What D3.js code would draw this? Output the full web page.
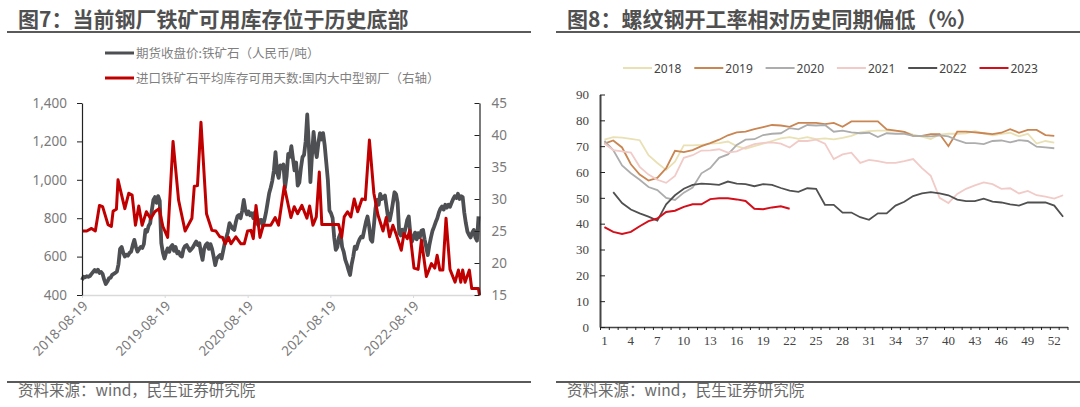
<!DOCTYPE html>
<html>
<head>
<meta charset="utf-8">
<script src="https://cdn.jsdelivr.net/npm/d3@7"></script>
<style>
body { margin: 0; background: #fff; }
text { font-family: "Noto Sans CJK SC", "Noto Sans", sans-serif; }
.title { font-size: 21px; font-weight: 700; fill: #505050; }
.source { font-size: 15.5px; fill: #6a6a6a; }
.legend { font-size: 12.5px; fill: #7f7f7f; }
.tick-left text { font-size: 13.5px; fill: #7a7a7a; font-family: "Noto Sans", sans-serif; }
.tick-serif text { font-size: 13px; fill: #444; font-family: "Liberation Serif", serif; }
</style>
</head>
<body>
<div id="chart"></div>
<script>
// Weeks since 2018-08-19 -> value, both
let oreWeek = [478,495,492,498,495,499,510,520,530,522,532,515,520,510,480,457,470,487,490,505,510,515,522,560,640,650,620,600,610,605,620,626,660,687,650,626,640,650,645,665,739,730,760,774,840,895,910,880,915,890,670,620,590,620,643,625,650,660,630,650,617,625,605,600,640,655,660,645,630,640,650,665,678,660,670,620,583,640,660,670,640,665,640,600,556,590,600,608,590,630,670,700,730,774,760,745,739,780,810,817,800,840,895,843,820,835,815,826,800,830,780,765,790,791,760,790,830,880,930,960,996,1050,1144,1040,1010,1075,1060,1080,960,1020,1135,1120,1175,1110,1049,1090,970,985,1060,1118,1130,1200,1340,1180,988,1130,1249,1160,1118,1190,1243,1210,1243,1180,1090,1000,840,826,800,700,635,650,700,722,650,625,583,560,530,504,560,600,652,640,670,690,704,700,740,780,809,760,690,678,760,850,895,870,927,900,910,918,860,800,788,830,880,935,925,880,722,710,740,715,750,790,809,720,678,700,725,690,722,700,735,739,690,650,608,660,700,735,756,780,800,830,850,861,845,870,855,870,860,880,900,915,905,927,900,915,910,830,774,730,713,700,725,739,700,683,809];

let stockDays = [[0,25],[3,25],[6,25.4],[8.4,25],[11,29],[13,28.8],[16.4,26],[18.5,25.7],[19.6,28.1],[21.7,28.4],[22.7,33],[27,28.5],[29.5,30.9],[31.6,30.6],[33.7,25.9],[35.8,28.9],[37.9,25.9],[40.6,28],[43.3,26.9],[45.9,28],[48.6,28.5],[51,25.7],[54,24],[57.4,39],[60.9,29.8],[65,25],[69.3,27],[70.8,32],[72.8,32.1],[75,42],[78.5,27.7],[81.9,25.1],[84.4,25],[86.9,24.1],[88.6,24],[90.3,23],[92.4,24],[93.9,23],[97,24.1],[100.2,23],[102.3,23],[104.4,25],[106.5,25.1],[108,23.8],[109.7,29],[112.2,24],[114.3,25.9],[119,25.9],[121.8,27.1],[123.9,25.9],[127.5,32],[131.7,27.1],[133.8,28.8],[135.9,27.7],[138.6,29],[141.8,27],[143.5,28.9],[145.6,25.9],[147.7,27.2],[149.6,34.2],[151.2,26],[161.8,26],[163.7,24],[165.3,27.2],[167.4,28],[169.5,27.2],[171.6,30],[173.8,28],[176.5,30],[178.6,29.9],[181.2,39.2],[184,30.9],[186.6,27.5],[189.8,25],[191.8,27.1],[193.9,24.1],[196,25.9],[198.2,24.4],[201.3,22],[203,24.6],[205.1,23.8],[206.6,25.1],[209.3,19.2],[211.9,19],[214,23.6],[217.1,17.9],[220.3,19.9],[222.4,19.2],[223.9,21.2],[225.6,18.9],[227.5,18.9],[229.5,27],[232,19],[235.2,17],[237.3,18.9],[238.8,17],[240,18.9],[241.5,17],[244.2,18.9],[245.7,16],[249.9,16],[250.6,15]];

// Rebar operating rate by week of the year
let rebar = {
    "2018": [72.5,73.5,73.3,72.8,72.3,66.5,63.5,60.8,64,70.3,70.3,70.5,71,71.2,71.8,70,69,70,71,72,73,73.5,72.8,73.5,72.7,73,72.6,73.2,74,75.3,75.8,76,76,76,75.5,74.5,73.7,72.8,74.5,74.8,74.8,75,75.8,75,74.2,74.8,75.2,73.8,74.8,71,72,71.4],
    "2019": [71,72.2,69.5,63,59,56.7,57.7,61.5,68.2,67.7,68.5,70,71.2,72.5,74.2,75.3,75.6,76.6,77.4,78.2,78,77.5,79,79,79,78.5,79,77.5,79.6,79.6,79.6,79.6,76.5,76,75.5,74,74,74.7,74.7,70,75.6,75.6,75.3,75,74.7,75.2,76.6,75.2,76.3,76.3,74.3,74],
    "2020": [72,68.5,62.5,59.5,57,54.2,53,50,49.2,52,54,59.5,61.5,65.5,66.8,70.5,72.5,72.7,74.3,74.8,75,77,76.5,78.2,78,78.2,75.6,76,75.3,75,75.2,73.5,75,74.8,74.8,74,74,73.8,74.2,73.8,72.3,71.2,71.2,70.8,72,72.2,71.5,72.3,72,69.8,69.5,69.2],
    "2021": [71,68.5,68,67.5,62,59,57,55.8,58.5,65.5,66.5,68.3,68.4,68.8,67.5,68,69.5,70.8,71.3,71.5,71,69.5,72,72,72.5,71,65,66.8,67.5,63.5,64.7,64.2,63.5,63.5,64.2,65,61.5,58.5,50,48,51.5,53.5,54.8,56,55.3,53.5,53.7,51.7,52.7,51,50.5,49.7,51],
    "2022": [null,52.2,48,45.5,44,42.7,41.2,47.5,51,53.5,55,55.5,55.3,55,56.3,55.5,55.3,54.5,55.3,55,53.8,52.8,52.3,53.7,53.5,47.3,47.3,44.3,44.3,42.5,41.5,44,44,47,48.5,50.7,51.7,52.2,51.7,51,49.3,48.7,48.7,49.7,48.5,48.2,47.5,47,48.2,48.2,48.2,47,42.7],
    "2023": [38.7,36.8,36,36.8,39,41,42,44.5,45,46.5,47.5,47.5,49.5,49.8,49.8,49.4,48.8,45.8,45.6,46.3,46.7,45.8]
};
let rebarColors = {"2018": "#e9e0b4", "2019": "#c98552", "2020": "#adadad", "2021": "#f1cbc7", "2022": "#505050", "2023": "#d20f1a"};

let svg = d3.select("#chart").append("svg")
    .attr("width", 1080)
    .attr("height", 407);

let drawFrame = function(x0, x1, textX, title){
    /* Title, the two grey rules and the source line */
    svg.append("text").attr("class", "title").attr("x", textX).attr("y", 27).text(title);
    svg.append("line").attr("x1", x0).attr("x2", x1).attr("y1", 32).attr("y2", 32)
        .attr("stroke", "#5a5a5a").attr("stroke-width", 2);
    svg.append("line").attr("x1", x0).attr("x2", x1).attr("y1", 382).attr("y2", 382)
        .attr("stroke", "#5a5a5a").attr("stroke-width", 2);
    svg.append("text").attr("class", "source").attr("x", textX).attr("y", 396).text("资料来源\uFF1Awind\uFF0C民生证券研究院");
};

let drawLeft = function(){
    let start = new Date(2018, 7, 19);
    let weekDate = function(w){ return d3.timeHour.offset(start, Math.round(w * 168)); };

    let xScale = d3.scaleTime()
        .domain([start, weekDate(250.6)])
        .range([82, 479.5]);
    let yPrice = d3.scaleLinear().domain([400, 1400]).range([295, 103]);
    let yDays = d3.scaleLinear().domain([15, 45]).range([295, 103]);

    let xTicks = [2018, 2019, 2020, 2021, 2022].map(function(y){ return new Date(y, 7, 19); });

    let xAxis = svg.append("g")
        .attr("class", "tick-left")
        .attr("transform", "translate(0,295)")
        .call(d3.axisBottom(xScale).tickValues(xTicks).tickFormat(d3.timeFormat("%Y-%m-%d")).tickSize(3).tickSizeOuter(0));
    xAxis.selectAll("line").attr("stroke", "#d9d9d9");
    xAxis.select(".domain").attr("stroke", "#d9d9d9").attr("stroke-width", 1.5);
    xAxis.selectAll("text")
        .attr("text-anchor", "end")
        .attr("dx", "-0.3em")
        .attr("dy", "0.5em")
        .attr("transform", "rotate(-45)");

    let priceLine = d3.line()
        .x(function(d, i) { return xScale(weekDate(i)); })
        .y(function(d) { return yPrice(d); });

    svg.append("path")
        .datum(oreWeek)
        .attr("d", priceLine)
        .attr("stroke", "#4d4f52")
        .attr("stroke-width", 3.8)
        .attr("stroke-linejoin", "round")
        .attr("fill", "none");

    let daysLine = d3.line()
        .x(function(d) { return xScale(weekDate(d[0])); })
        .y(function(d) { return yDays(d[1]); });

    svg.append("path")
        .datum(stockDays)
        .attr("d", daysLine)
        .attr("stroke", "#c00000")
        .attr("stroke-width", 3)
        .attr("stroke-linejoin", "round")
        .attr("fill", "none");

    let leftAxis = svg.append("g")
        .attr("class", "tick-left")
        .attr("transform", "translate(82,0)")
        .call(d3.axisLeft(yPrice).tickValues(d3.range(400, 1401, 200)).tickFormat(d3.format(",")).tickSize(5).tickPadding(10).tickSizeOuter(0));
    leftAxis.selectAll("line").attr("stroke", "#222");
    leftAxis.select(".domain").attr("stroke", "#222").attr("stroke-width", 1.2);

    let rightAxis = svg.append("g")
        .attr("class", "tick-left")
        .attr("transform", "translate(479.5,0)")
        .call(d3.axisRight(yDays).tickValues(d3.range(15, 46, 5)).tickSize(-5).tickPadding(12).tickSizeOuter(0));
    rightAxis.selectAll("line").attr("stroke", "#222");
    rightAxis.select(".domain").attr("stroke", "#222").attr("stroke-width", 1.2);

    // legend
    let keys = [
        {label: "期货收盘价:铁矿石\uFF08人民币/吨\uFF09", color: "#4d4f52", y: 53},
        {label: "进口铁矿石平均库存可用天数:国内大中型钢厂\uFF08右轴\uFF09", color: "#c00000", y: 78}
    ];
    keys.forEach(function(k){
        svg.append("line").attr("x1", 105).attr("x2", 134).attr("y1", k.y).attr("y2", k.y)
            .attr("stroke", k.color).attr("stroke-width", 3);
        svg.append("text").attr("class", "legend").attr("x", 136).attr("y", k.y + 4.5).text(k.label);
    });
};

let drawRight = function(){
    let weeks = d3.range(1, 54);
    let xScale = d3.scaleBand().domain(weeks).range([600, 1067.5]);
    let xEdge = d3.scaleLinear().domain([0, 53]).range([600, 1067.5]);
    let yScale = d3.scaleLinear().domain([0, 90]).range([327, 94.5]);

    let edgeAxis = svg.append("g")
        .attr("transform", "translate(0,327)")
        .call(d3.axisBottom(xEdge).tickValues(d3.range(0, 54)).tickFormat("").tickSize(3).tickSizeOuter(0));
    edgeAxis.selectAll("line").attr("stroke", "#222");
    edgeAxis.select(".domain").attr("stroke", "#444").attr("stroke-width", 1.5);

    let labelAxis = svg.append("g")
        .attr("class", "tick-serif")
        .attr("transform", "translate(0,327)")
        .call(d3.axisBottom(xScale).tickValues(weeks.filter(function(w){ return w % 3 == 1; })).tickSize(0).tickPadding(9));
    labelAxis.select(".domain").remove();

    let yAxis = svg.append("g")
        .attr("class", "tick-serif")
        .attr("transform", "translate(600,0)")
        .call(d3.axisLeft(yScale).tickValues(d3.range(0, 91, 10)).tickSize(-5).tickPadding(11).tickSizeOuter(0));
    yAxis.selectAll("line").attr("stroke", "#222");
    yAxis.select(".domain").attr("stroke", "#444").attr("stroke-width", 2);

    let line = d3.line()
        .defined(function(d) { return d != null; })
        .x(function(d, i) { return xScale(i + 1) + xScale.bandwidth() / 2; })
        .y(function(d) { return yScale(d); });

    let years = Object.keys(rebar);
    years.forEach(function(y, i){
        svg.append("path")
            .datum(rebar[y])
            .attr("d", line)
            .attr("stroke", rebarColors[y])
            .attr("stroke-width", y == "2023" ? 2 : 1.8)
            .attr("fill", "none");

        let lx = 623 + i * 71.3;
        svg.append("line").attr("x1", lx).attr("x2", lx + 29).attr("y1", 68).attr("y2", 68)
            .attr("stroke", rebarColors[y]).attr("stroke-width", 2);
        svg.append("text").attr("x", lx + 31).attr("y", 72.5).attr("fill", "#444")
            .style("font-size", "12px").style("font-family", "Noto Sans").text(y);
    });
};

drawFrame(7, 531, 18, "图7\uFF1A当前钢厂铁矿可用库存位于历史底部");
drawFrame(556, 1080, 567, "图8\uFF1A螺纹钢开工率相对历史同期偏低\uFF08%\uFF09");
drawLeft();
drawRight();
</script>
</body>
</html>
